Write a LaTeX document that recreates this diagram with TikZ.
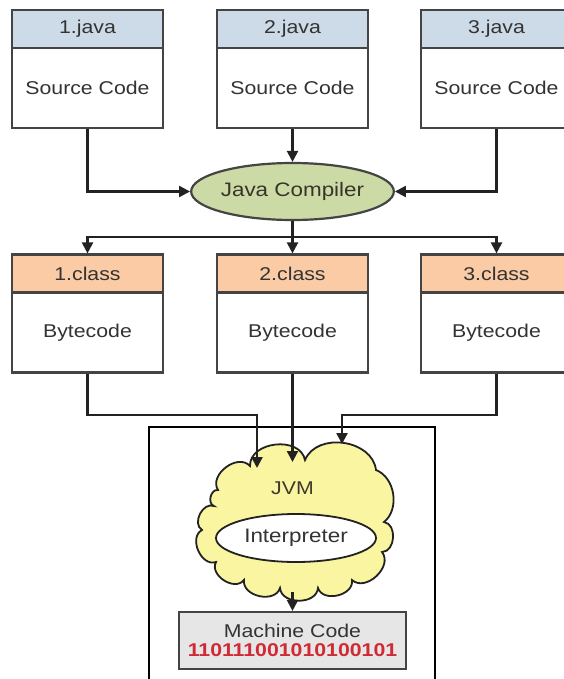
\documentclass[tikz,border=0pt]{standalone}
\usepackage{fontspec}
\setmainfont[FakeStretch=1.15]{Liberation Sans}
\usetikzlibrary{arrows.meta,shapes.geometric}

\definecolor{boxline}{HTML}{444444}
\definecolor{lineclr}{HTML}{222222}
\definecolor{txt}{HTML}{333333}
\definecolor{javahead}{HTML}{CDDAE8}
\definecolor{classhead}{HTML}{FACBA5}
\definecolor{compgreen}{HTML}{CCDBA5}
\definecolor{jvmyellow}{HTML}{FAF5A0}
\definecolor{mcgray}{HTML}{E6E6E6}
\definecolor{bits}{HTML}{D02A35}

\begin{document}
\begin{tikzpicture}[x=1pt,y=-1pt,
  lbl/.style={font=\fontsize{18.5}{21}\selectfont, text=txt},
  head/.style={lbl, draw=boxline, line width=2.2pt, minimum width=151pt,
    minimum height=38pt, inner sep=0pt},
  srchead/.style={head, fill=javahead},
  clshead/.style={head, fill=classhead},
  body/.style={lbl, draw=boxline, line width=2.2pt, fill=white,
    minimum width=151pt, minimum height=80pt, inner sep=0pt},
  conn/.style={draw=lineclr, line width=2.3pt},
  arr/.style={conn, -{Triangle[width=11pt,length=11pt]}},
  frame/.style={draw=black, line width=2.6pt},
  lobe/.style={bend left=85, looseness=1.15},
]
\useasboundingbox (0,0) rectangle (563,679);
\fill[white] (0,0) rectangle (563,679);

% source files
\node[srchead] (s1h) at (87.5,29) {1.java};
\node[body]    (s1b) at (87.5,88) {Source Code};
\node[srchead] (s2h) at (292.5,29) {2.java};
\node[body]    (s2b) at (292.5,88) {Source Code};
\node[srchead] (s3h) at (496.5,29) {3.java};
\node[body]    (s3b) at (496.5,88) {Source Code};

% compiler
\node[ellipse, draw=boxline, line width=2.2pt, fill=compgreen,
      minimum width=153pt, minimum height=57pt, inner sep=0pt,
      font=\fontsize{19.5}{22}\selectfont, text=black!80!olive]
      (comp) at (292.5,191.5) {Java Compiler};

\draw[arr] (s1b.south) |- (comp.west);
\draw[arr] (s2b.south) -- (comp.north);
\draw[arr] (s3b.south) |- (comp.east);

% class files
\node[clshead] (c1h) at (87.5,273.5) {1.class};
\node[body]    (c1b) at (87.5,332.5) {Bytecode};
\node[clshead] (c2h) at (292.5,273.5) {2.class};
\node[body]    (c2b) at (292.5,332.5) {Bytecode};
\node[clshead] (c3h) at (496.5,273.5) {3.class};
\node[body]    (c3b) at (496.5,332.5) {Bytecode};

\coordinate (split) at (292.5,237);
\draw[arr] (comp.south) -- (c2h.north);
\draw[arr] (split) -| (c1h.north);
\draw[arr] (split) -| (c3h.north);

% JVM frame (open at the bottom)
\draw[frame] (149,690) -- (149,427) -- (435,427) -- (435,690);

% JVM cloud
\draw[draw=lineclr, line width=1.8pt, fill=jvmyellow]
  (218,490) to[lobe] (250,466) to[lobe] (305,460)
  to[bend left=75, looseness=1.1] (376,470) to[bend left=60] (384,522)
  to[lobe] (382,552) to[lobe] (352,580)
  to[lobe] (318,588) to[lobe] (280,588)
  to[lobe] (244,580) to[lobe] (216,562)
  to[lobe] (202,530) to[lobe] (214,506)
  to[lobe] (218,490) -- cycle;
\node[lbl, text=black!75!olive] (jvm) at (292.5,488) {JVM};
\node[ellipse, draw=lineclr, line width=1.8pt, fill=white,
      minimum width=160pt, minimum height=48pt, inner sep=0pt,
      font=\fontsize{19.5}{22}\selectfont, text=txt]
      (interp) at (296,538) {Interpreter};

\coordinate (in1) at (257,468);
\coordinate (in2) at (292.5,462);
\coordinate (in3) at (342,444);
\coordinate (bus1) at (257,415);
\coordinate (bus3) at (342,415);
\coordinate (cloudout) at (292.5,592);

\draw[arr] (c1b.south) |- (bus1) -- (in1);
\draw[arr] (c2b.south) -- (in2);
\draw[arr] (c3b.south) |- (bus3) -- (in3);

% machine code
\node[draw=boxline, line width=2.2pt, fill=mcgray, minimum width=227pt,
      minimum height=57pt, inner sep=0pt, align=center, lbl]
      (mc) at (292.5,640.5)
      {Machine Code\\[-2pt]{\color{bits}\bfseries 110111001010100101}};
\draw[arr] (cloudout) -- (mc.north);
\end{tikzpicture}
\end{document}
